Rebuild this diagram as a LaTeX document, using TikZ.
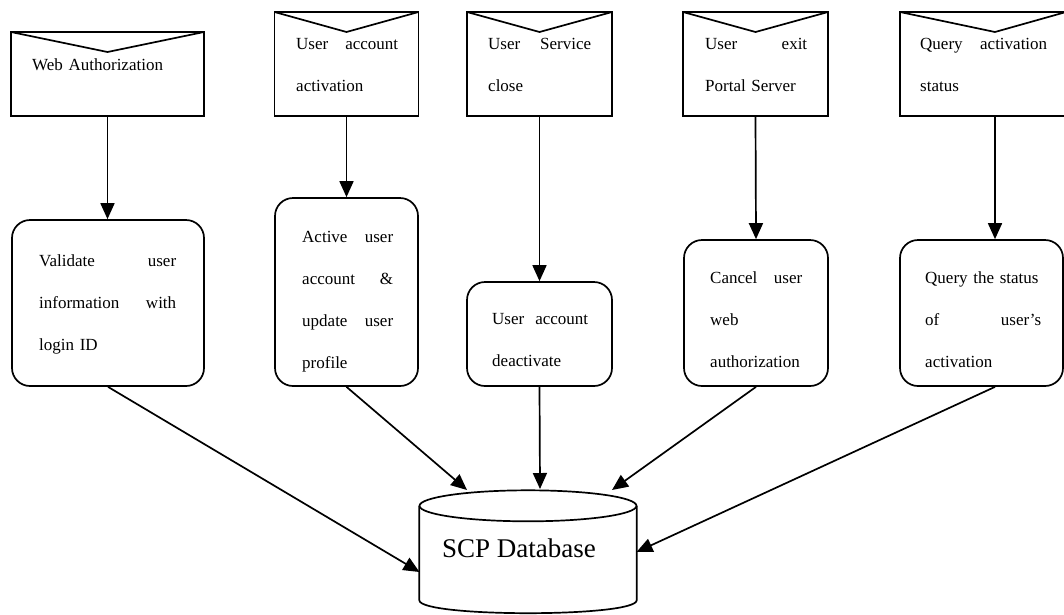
\documentclass[tikz,border=0pt]{standalone}
\usepackage{fontspec}
\setmainfont{Liberation Serif}
\usetikzlibrary{arrows.meta,calc}
\begin{document}
\begin{tikzpicture}[x=1pt,y=-1pt,
  outline/.style={draw, line width=1.7pt},
  % envelope-shaped input: rectangle with a V flap hanging from the top edge
  envbox/.style={outline, rectangle, inner sep=0pt,
    path picture={\draw[line width=1.7pt]
      (path picture bounding box.north west)
      -- ($(path picture bounding box.north west)!#1!(path picture bounding box.north east)+(0pt,-20pt)$)
      -- (path picture bounding box.north east);}},
  envbox/.default=0.5,
  procbox/.style={outline, rectangle, rounded corners=18pt, inner sep=0pt},
  txt/.style={font=\fontsize{17}{42}\selectfont, align=left, inner sep=0pt,
    anchor=base west, text width=#1},
  arr/.style={-{Triangle[length=16pt,width=14pt]}, line width=1.7pt}]
\useasboundingbox (0,0) rectangle (1064,614);

% input events
\node[envbox, minimum width=193pt, minimum height=84pt] (e1) at (107.5,74) {};
\node[envbox, minimum width=144pt, minimum height=104pt] (e2) at (346.5,64) {};
\node[envbox, minimum width=145pt, minimum height=104pt] (e3) at (539.5,64) {};
\node[envbox, minimum width=145pt, minimum height=104pt] (e4) at (755.5,64) {};
\node[envbox=0.572, minimum width=166pt, minimum height=104pt] (e5) at (983,64) {};
\coordinate (c5) at (995,0);

\node[txt=140pt] (te1) at (32,70) {Web Authorization};
\node[txt=102pt] (te2) at (296,49) {User\hfill account\\activation};
\node[txt=103pt] (te3) at (488,49) {User\hfill Service\\close};
\node[txt=102pt] (te4) at (705,49) {User\hfill exit\\Portal Server};
\node[txt=127pt] (te5) at (920,49) {Query\hfill activation\\status};

% processing steps
\node[procbox, minimum width=192pt, minimum height=166pt] (b1) at (108,303) {};
\node[procbox, minimum width=143pt, minimum height=188pt] (b2) at (346.5,292) {};
\node[procbox, minimum width=145pt, minimum height=104pt] (b3) at (539.5,334) {};
\node[procbox, minimum width=144pt, minimum height=146pt] (b4) at (756,313) {};
\node[procbox, minimum width=163pt, minimum height=146pt] (b5) at (981.5,313) {};

\node[txt=137pt] (tb1) at (39,266) {Validate\hfill user\\information\hfill with\\login ID};
\node[txt=91pt] (tb2) at (302,242) {Active\hfill user\\account\hfill\&\\update\hfill user\\profile};
\node[txt=96pt] (tb3) at (492,324) {User\hfill account\\deactivate};
\node[txt=92pt] (tb4) at (710,283) {Cancel\hfill user\\web\\authorization};
\node[txt=116pt] (tb5) at (925,283) {Query the status\\of\hfill user's\\activation};

% database cylinder
\node[inner sep=0pt, minimum width=217pt, minimum height=94pt] (db) at (528,553) {};
\draw[outline] (db.north west) -- (db.south west)
  .. controls ($(db.south west)+(0,17.3)$) and ($(db.south east)+(0,17.3)$) .. (db.south east)
  -- (db.north east);
\draw[outline] (db.north) ellipse[x radius=108.5, y radius=15.5];
\node[font=\fontsize{27}{32}\selectfont, inner sep=0pt] (dbt) at (519,548) {SCP Database};

\coordinate (d1) at (419.5,572);
\coordinate (d2) at (467,490);
\coordinate (d3) at (540,489);
\coordinate (d4) at (612,490);
\coordinate (d5) at (636.5,552);

% flows
\draw[arr] (e1.south) -- (b1.north -| e1.south);
\draw[arr] (e2.south) -- (b2.north);
\draw[arr] (e3.south) -- (b3.north);
\draw[arr] (e4.south) -- (b4.north);
\draw[arr] (e5.south -| c5) -- (b5.north -| c5);

\draw[arr] (b1.south) -- (d1);
\draw[arr] (b2.south) -- (d2);
\draw[arr] (b3.south) -- (d3);
\draw[arr] (b4.south) -- (d4);
\draw[arr] (b5.south -| c5) -- (d5);
\end{tikzpicture}
\end{document}
